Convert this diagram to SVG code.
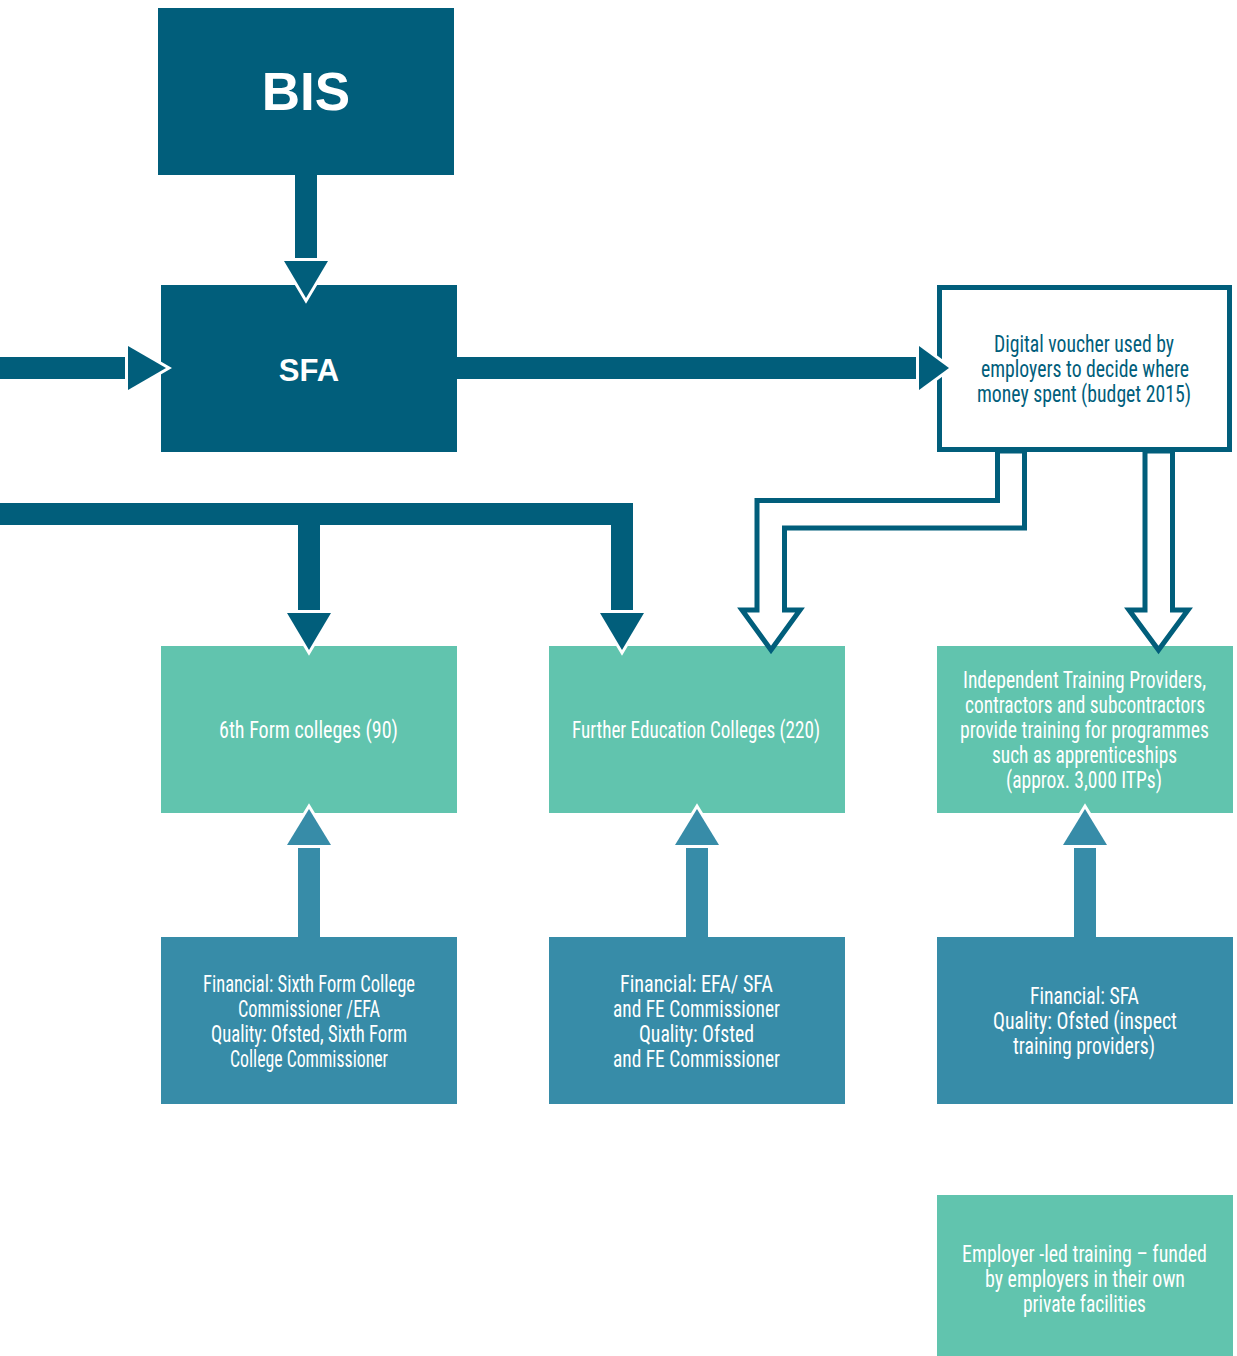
<svg xmlns="http://www.w3.org/2000/svg" width="1237" height="1356" viewBox="0 0 1237 1356">
<style>
.dark{fill:#015e7b}
.green{fill:#61c4ae}
.blue{fill:#378ca8}
.t{font-family:"Liberation Sans Narrow","Roboto","DejaVu Sans",sans-serif;font-stretch:condensed;font-size:23px;text-anchor:middle}
.w{fill:#ffffff}
.d{fill:#015e7b}
.big{font-family:"Liberation Sans","Arial",sans-serif;font-weight:bold;fill:#ffffff;text-anchor:middle}
.head{stroke:#ffffff;stroke-width:6;paint-order:stroke;stroke-linejoin:miter}
.hollow{fill:#ffffff;stroke:#015e7b;stroke-width:5;stroke-linejoin:miter}
</style>
<rect width="1237" height="1356" fill="#ffffff"/>

<g id="BIS">
<rect class="dark" x="158" y="8" width="296" height="167"/>
<text class="big" x="306" y="110" font-size="53">BIS</text>
</g>

<g id="SFA">
<rect class="dark" x="161" y="285" width="296" height="167"/>
<text class="big" x="309" y="381" font-size="31">SFA</text>
</g>

<g id="voucher">
<rect x="939.5" y="287.5" width="290" height="162" fill="#ffffff" stroke="#015e7b" stroke-width="5"/>
<text class="t d"><tspan x="1084" y="352" textLength="180" lengthAdjust="spacingAndGlyphs">Digital voucher used by</tspan><tspan x="1085" y="377" textLength="208" lengthAdjust="spacingAndGlyphs">employers to decide where</tspan><tspan x="1084" y="402" textLength="214" lengthAdjust="spacingAndGlyphs">money spent (budget 2015)</tspan></text>
</g>

<g id="sixthform">
<rect class="green" x="161" y="646" width="296" height="167"/>
<text class="t w"><tspan x="308.5" y="738" textLength="179" lengthAdjust="spacingAndGlyphs">6th Form colleges (90)</tspan></text>
</g>

<g id="fecolleges">
<rect class="green" x="549" y="646" width="296" height="167"/>
<text class="t w"><tspan x="696" y="738" textLength="248" lengthAdjust="spacingAndGlyphs">Further Education Colleges (220)</tspan></text>
</g>

<g id="itps">
<rect class="green" x="937" y="646" width="296" height="167"/>
<text class="t w"><tspan x="1084.5" y="688" textLength="243" lengthAdjust="spacingAndGlyphs">Independent Training Providers,</tspan><tspan x="1085" y="713" textLength="240" lengthAdjust="spacingAndGlyphs">contractors and subcontractors</tspan><tspan x="1084.5" y="738" textLength="249" lengthAdjust="spacingAndGlyphs">provide training for programmes</tspan><tspan x="1084.5" y="763" textLength="185" lengthAdjust="spacingAndGlyphs">such as apprenticeships</tspan><tspan x="1084" y="788" textLength="156" lengthAdjust="spacingAndGlyphs">(approx. 3,000 ITPs)</tspan></text>
</g>

<g id="reg-sixthform">
<rect class="blue" x="161" y="937" width="296" height="167"/>
<text class="t w"><tspan x="309" y="992" textLength="212" lengthAdjust="spacingAndGlyphs">Financial: Sixth Form College</tspan><tspan x="309" y="1017" textLength="142" lengthAdjust="spacingAndGlyphs">Commissioner /EFA</tspan><tspan x="309" y="1042" textLength="196" lengthAdjust="spacingAndGlyphs">Quality: Ofsted, Sixth Form</tspan><tspan x="309" y="1067" textLength="158" lengthAdjust="spacingAndGlyphs">College Commissioner</tspan></text>
</g>

<g id="reg-fe">
<rect class="blue" x="549" y="937" width="296" height="167"/>
<text class="t w"><tspan x="696.5" y="992" textLength="153" lengthAdjust="spacingAndGlyphs">Financial: EFA/ SFA</tspan><tspan x="696.5" y="1017" textLength="167" lengthAdjust="spacingAndGlyphs">and FE Commissioner</tspan><tspan x="696.5" y="1042" textLength="115" lengthAdjust="spacingAndGlyphs">Quality: Ofsted</tspan><tspan x="696.5" y="1067" textLength="167" lengthAdjust="spacingAndGlyphs">and FE Commissioner</tspan></text>
</g>

<g id="reg-itps">
<rect class="blue" x="937" y="937" width="296" height="167"/>
<text class="t w"><tspan x="1084.5" y="1004" textLength="109" lengthAdjust="spacingAndGlyphs">Financial: SFA</tspan><tspan x="1085" y="1029" textLength="184" lengthAdjust="spacingAndGlyphs">Quality: Ofsted (inspect</tspan><tspan x="1084" y="1054" textLength="142" lengthAdjust="spacingAndGlyphs">training providers)</tspan></text>
</g>

<g id="employer">
<rect class="green" x="937" y="1195" width="296" height="161"/>
<text class="t w"><tspan x="1084.5" y="1262" textLength="245" lengthAdjust="spacingAndGlyphs">Employer -led training – funded</tspan><tspan x="1085" y="1287" textLength="200" lengthAdjust="spacingAndGlyphs">by employers in their own</tspan><tspan x="1084.5" y="1312" textLength="123" lengthAdjust="spacingAndGlyphs">private facilities</tspan></text>
</g>

<g id="connectors">
<!-- BIS to SFA -->
<rect class="dark" x="295" y="175" width="22" height="88"/>
<polygon class="dark head" points="284,261 328,261 306,298"/>
<!-- left into SFA -->
<rect class="dark" x="0" y="357" width="130" height="22"/>
<polygon class="dark head" points="128,346 128,390 166,368"/>
<!-- SFA to voucher -->
<rect class="dark" x="457" y="357" width="464" height="22"/>
<polygon class="dark head" points="919,346 919,390 949,368"/>
<!-- left bus to 6th form and FE -->
<path class="dark" d="M0,503 H633 V615 H611 V525 H320 V615 H298 V525 H0 Z"/>
<polygon class="dark head" points="287,613 331,613 309,650"/>
<polygon class="dark head" points="600,613 644,613 622,650"/>
<!-- hollow arrows from voucher -->
<polygon class="hollow" points="997.5,451 997.5,500.5 757,500.5 757,610 742,610 771,650 800,610 784.5,610 784.5,528 1024.5,528 1024.5,451"/>
<polygon class="hollow" points="1145,451 1145,610 1129,610 1158.5,650 1188,610 1172.5,610 1172.5,451"/>
<!-- upward regulator arrows -->
<rect class="blue" x="298" y="843" width="22" height="94"/>
<polygon class="blue head" points="287,845 331,845 309,809"/>
<rect class="blue" x="686" y="843" width="22" height="94"/>
<polygon class="blue head" points="675,845 719,845 697,809"/>
<rect class="blue" x="1074" y="843" width="22" height="94"/>
<polygon class="blue head" points="1063,845 1107,845 1085,809"/>
</g>
</svg>
